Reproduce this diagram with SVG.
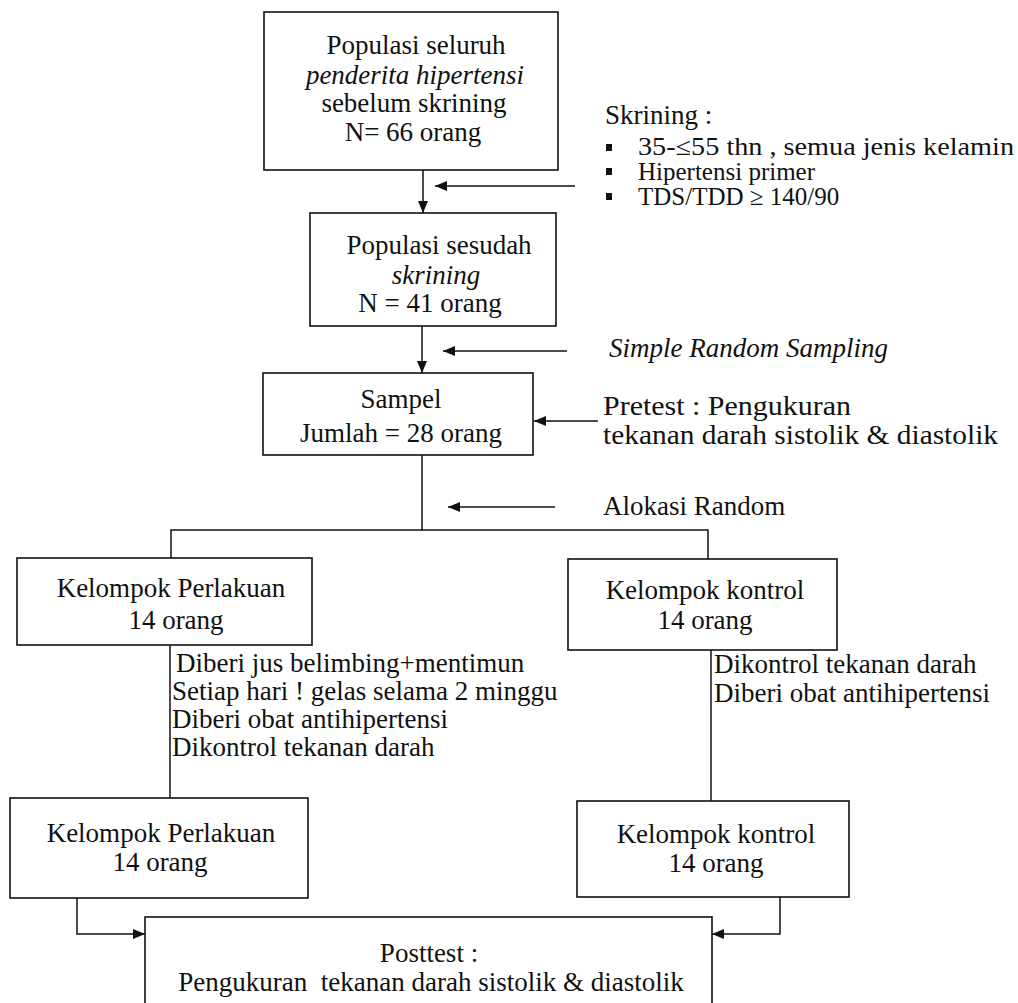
<svg xmlns="http://www.w3.org/2000/svg" width="1018" height="1003" viewBox="0 0 1018 1003">
<style>
.box{fill:none;stroke:#111;stroke-width:1.6}
.ln{fill:none;stroke:#111;stroke-width:1.5}
text{font-family:"Liberation Serif","Times New Roman",serif;font-size:27px;fill:#111}
.sm{font-size:25px}
.c{text-anchor:middle}
.i{font-style:italic}
.bul{fill:#111}
</style>
<defs>
<marker id="ah" viewBox="0 0 12 10" refX="12" refY="5" markerWidth="12" markerHeight="10" markerUnits="userSpaceOnUse" orient="auto">
<path d="M0,0 L12,5 L0,10 z" fill="#111"/>
</marker>
</defs>
<rect width="1018" height="1003" fill="#fff"/>
<g id="connectors">
<line class="ln" x1="423" y1="170" x2="423" y2="213" marker-end="url(#ah)"/>
<line class="ln" x1="575" y1="186" x2="435" y2="186" marker-end="url(#ah)"/>
<line class="ln" x1="422" y1="326" x2="422" y2="373" marker-end="url(#ah)"/>
<line class="ln" x1="567" y1="351" x2="443" y2="351" marker-end="url(#ah)"/>
<line class="ln" x1="598" y1="421" x2="534" y2="421" marker-end="url(#ah)"/>
<line class="ln" x1="422" y1="455" x2="422" y2="530"/>
<line class="ln" x1="555" y1="507" x2="448" y2="507" marker-end="url(#ah)"/>
<polyline class="ln" points="171,558 171,530 708,530 708,559"/>
<line class="ln" x1="170" y1="645" x2="170" y2="798"/>
<line class="ln" x1="711" y1="650" x2="711" y2="801"/>
<polyline class="ln" points="77,898 77,934 145,934" marker-end="url(#ah)"/>
<polyline class="ln" points="780,897 780,934 712,934" marker-end="url(#ah)"/>
</g>
<g id="n1">
<rect class="box" x="264" y="12" width="294" height="158"/>
<text class="c" x="416" y="54">Populasi seluruh</text>
<text class="c i" x="415" y="84">penderita hipertensi</text>
<text class="c" x="414" y="112">sebelum skrining</text>
<text class="c" x="413" y="141">N= 66 orang</text>
</g>
<g id="skrining">
<text x="605" y="124">Skrining :</text>
<rect class="bul" x="606" y="144" width="6" height="7"/>
<rect class="bul" x="606" y="168" width="6" height="7"/>
<rect class="bul" x="606" y="193" width="6" height="7"/>
<text class="sm" x="638" y="155" textLength="376" lengthAdjust="spacingAndGlyphs">35-≤55 thn , semua jenis kelamin</text>
<text class="sm" x="638" y="180">Hipertensi primer</text>
<text class="sm" x="638" y="205">TDS/TDD ≥ 140/90</text>
</g>
<g id="n2">
<rect class="box" x="310" y="213" width="246" height="113"/>
<text class="c" x="439" y="254">Populasi sesudah</text>
<text class="c i" x="436" y="284">skrining</text>
<text class="c" x="430" y="312">N = 41 orang</text>
</g>
<g id="srs">
<text class="i" x="609" y="357">Simple Random Sampling</text>
</g>
<g id="n3">
<rect class="box" x="263" y="373" width="270" height="82"/>
<text class="c" x="401" y="408">Sampel</text>
<text class="c" x="401" y="442">Jumlah = 28 orang</text>
</g>
<g id="pretest">
<text x="603" y="415" textLength="248" lengthAdjust="spacingAndGlyphs">Pretest : Pengukuran</text>
<text x="603" y="444" textLength="395" lengthAdjust="spacingAndGlyphs">tekanan darah sistolik &amp; diastolik</text>
</g>
<g id="alokasi">
<text x="603" y="515">Alokasi Random</text>
</g>
<g id="n4">
<rect class="box" x="17" y="558" width="295" height="87"/>
<text class="c" x="171" y="597">Kelompok Perlakuan</text>
<text class="c" x="176" y="629">14 orang</text>
</g>
<g id="n5">
<rect class="box" x="568" y="559" width="269" height="91"/>
<text class="c" x="705" y="599">Kelompok kontrol</text>
<text class="c" x="705" y="629">14 orang</text>
</g>
<g id="treat">
<text x="176" y="672">Diberi jus belimbing+mentimun</text>
<text x="172" y="700">Setiap hari ! gelas selama 2 minggu</text>
<text x="172" y="728">Diberi obat antihipertensi</text>
<text x="172" y="756">Dikontrol tekanan darah</text>
</g>
<g id="ctrl">
<text x="714" y="673">Dikontrol tekanan darah</text>
<text x="714" y="702">Diberi obat antihipertensi</text>
</g>
<g id="n6">
<rect class="box" x="10" y="798" width="298" height="100"/>
<text class="c" x="161" y="842">Kelompok Perlakuan</text>
<text class="c" x="160" y="871">14 orang</text>
</g>
<g id="n7">
<rect class="box" x="577" y="801" width="272" height="96"/>
<text class="c" x="716" y="843">Kelompok kontrol</text>
<text class="c" x="716" y="872">14 orang</text>
</g>
<g id="n8">
<rect class="box" x="145" y="917" width="567" height="100"/>
<text class="c" x="429" y="962">Posttest :</text>
<text class="c" x="431" y="991" xml:space="preserve">Pengukuran  tekanan darah sistolik &amp; diastolik</text>
</g>
</svg>
